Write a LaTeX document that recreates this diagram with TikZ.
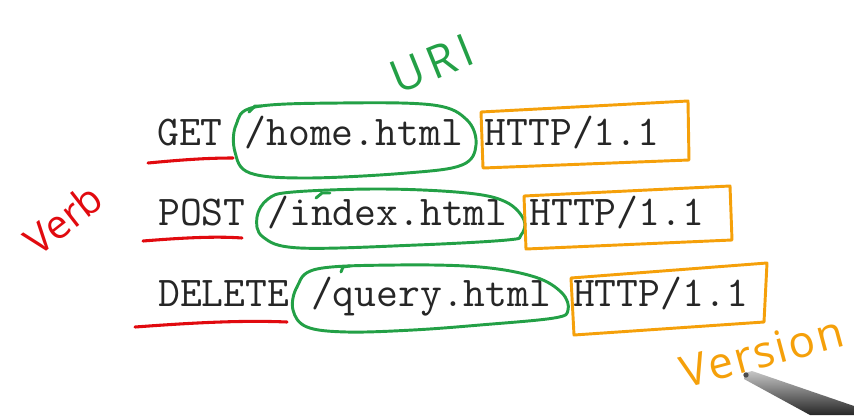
\documentclass[tikz,border=0pt]{standalone}
\usepackage{fontspec}
\newfontfamily\handfont{Open Sans}
\usepackage{tikz}

\definecolor{penred}{RGB}{225,10,15}
\definecolor{pengreen}{RGB}{35,160,70}
\definecolor{penorange}{RGB}{245,160,10}

\begin{document}
\begin{tikzpicture}[x=0.75pt, y=-0.75pt,
    req/.style={font=\ttfamily\fontsize{31.8}{36}\selectfont, inner sep=0pt, anchor=base west, text=black!85},
    redline/.style={draw=penred, line width=2.3pt, line cap=round},
    greenloop/.style={draw=pengreen, line width=2.2pt, line join=round, line cap=round},
    orangebox/.style={draw=penorange, line width=2.2pt, line join=round, line cap=round},
    hand/.style={font=\handfont\fontsize{#1}{#1}\selectfont, inner sep=0pt}]
    \fill[white] (0,0) rectangle (854,415);

    % Request lines
    \node[req] (get) at (157,145) {GET /home.html HTTP/1.1};
    \node[req] (post) at (158,225) {POST /index.html HTTP/1.1};
    \node[req] (delete) at (158,306) {DELETE /query.html HTTP/1.1};

    % Verbs
    \draw[redline] (148,163) .. controls (180,160) and (205,158) .. (233,158);
    \draw[redline] (143,241) .. controls (180,238) and (215,236) .. (242,238);
    \draw[redline] (135,327) .. controls (190,323) and (240,320) .. (287,322);
    \node[hand=30, penred, rotate=38] (verb) at (63,219) {Verb};

    % URIs
    \draw[greenloop] plot[smooth cycle, tension=0.6] coordinates {(255,107) (340,103) (433,105) (467,120) (476,145) (462,165) (407,173) (307,178) (250,173) (235,152) (236,125)};
    \draw[greenloop] (249,112) -- (255,106) -- (262,106);
    \draw[greenloop] plot[smooth cycle, tension=0.6] coordinates {(293,192) (383,189) (467,193) (506,202) (524,220) (521,235) (507,240) (417,245) (300,248) (263,237) (257,217) (268,199)};
    \draw[greenloop] (316,198) -- (322,193) -- (330,193);
    \draw[greenloop] plot[smooth cycle, tension=0.6] coordinates {(317,269) (397,265) (480,267) (535,277) (562,293) (568,310) (554,318) (480,325) (413,330) (347,332) (307,327) (293,310) (297,287)};
    \draw[greenloop] (341,272) -- (343,267) -- (350,266);
    \node[hand=34, pengreen, rotate=22] (uri) at (432,64) {\addfontfeatures{LetterSpace=12}URI};

    % Versions
    \draw[orangebox] (481,112) -- (688,101) -- (689,160) -- (483,168) -- cycle;
    \draw[orangebox] (524,196) -- (730,186) -- (732,240) -- (526,249) -- cycle;
    \draw[orangebox] (571,278) -- (767,263) -- (764,322) -- (574,335) -- cycle;
    \node[hand=33, penorange, rotate=15] (version) at (762,352) {\addfontfeatures{LetterSpace=5}Version};

    % Pen
    \shade[top color=gray!45, bottom color=black!85] (745,373) -- (752,371) -- (854,406) -- (854,415) -- (810,415) -- (744,379) -- cycle;
    \fill[gray!60!black] (746,375) circle (2pt);
\end{tikzpicture}
\end{document}
